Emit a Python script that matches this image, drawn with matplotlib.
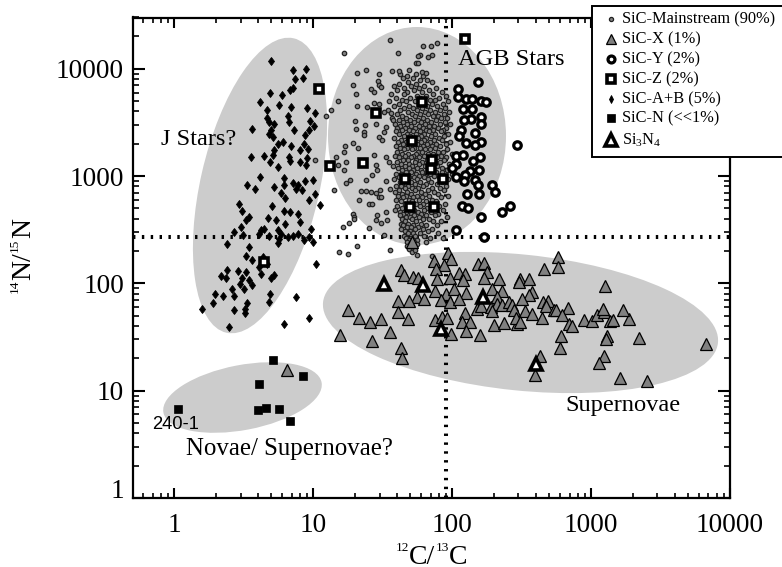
#!/usr/bin/python3
# Presolar grain isotope plot: 14N/15N against 12C/13C
import numpy as np
import matplotlib
matplotlib.use('Agg')
import matplotlib.pyplot as plt
from matplotlib.lines import Line2D
from matplotlib.patches import Ellipse, Rectangle
from matplotlib.ticker import FixedLocator, LogLocator, NullFormatter
from matplotlib.transforms import IdentityTransform

plt.rcParams['font.family'] = ['Liberation Serif', 'DejaVu Serif']
plt.rcParams['mathtext.fontset'] = 'custom'
plt.rcParams['mathtext.rm'] = 'Liberation Serif'
plt.rcParams['mathtext.default'] = 'regular'

W, H = 782, 567

# (12C/13C, 14N/15N)
mainstream_sparse = [
    (35.6, 18700), (16.7, 14100), (41, 14100), (61.8, 16300), (70, 16200), (77.8, 17500),
    (58.8, 13500), (56.9, 13100), (72, 13300), (67, 12900), (54.7, 11400), (56.9, 11400),
    (20.6, 9200), (23.9, 9820), (29.8, 8880), (37.2, 9530), (41.5, 9530), (49, 9670),
    (61, 9330), (64.6, 9140), (29.3, 7690), (29.8, 7010), (31, 6770), (19.4, 7010),
    (26, 6430), (27.5, 6080), (20.3, 5870), (15.1, 4980), (20.6, 4500), (24.3, 4400),
    (27.5, 4800), (29.8, 4730), (13.4, 4100), (12.4, 3630), (20, 3270), (20.3, 2770),
    (23.6, 2970), (23.3, 2580), (23.3, 2400), (28.2, 3080), (32.4, 3960), (36.2, 3900),
    (37.8, 3310), (33.3, 2870), (32.4, 2580), (29.8, 2320), (31.5, 2160), (19.2, 2050),
    (16.9, 1910), (21.1, 1820), (16.7, 1660), (14.6, 1510), (17.2, 1350), (15, 1260),
    (16.7, 1130), (27.5, 1560), (33.3, 1510), (35.2, 1350), (28.2, 1260), (29, 1130),
    (26.7, 1020), (23.9, 927), (18.5, 914), (17.2, 863), (33.3, 901), (14.1, 738),
    (22, 723), (23.9, 723), (26, 712), (28.2, 702), (30.1, 738), (35.6, 754),
    (29.8, 631), (30.7, 631), (21.4, 604), (25.3, 547), (26.7, 547), (28.6, 438),
    (33.3, 464), (19.2, 441), (19.5, 411), (18.2, 366), (16.3, 336), (19.7, 396),
    (25.3, 325), (28.2, 388), (30.7, 366), (33.7, 388), (32.4, 281), (10.3, 1400),
    (15.3, 196), (17.7, 188), (20.6, 223), (35.6, 206), (53, 216), (54, 204),
    (56.2, 183), (72, 179),
]
mainstream_core_y = [
    8990, 8610, 8260, 7920, 7590, 7270, 6970, 6670, 6390, 6120, 5870, 5620, 5390, 5160, 4950,
    4740, 4530, 4340, 4160, 3990, 3820, 3660, 3510, 3360, 3210, 3080, 2950, 2830, 2710, 2600,
    2490, 2380, 2280, 2180, 2090, 2000, 1920, 1840, 1770, 1690, 1620, 1550, 1490, 1420, 1360,
    1300, 1250, 1200, 1150, 1100, 1050, 1010, 970, 929, 889, 851, 815, 781, 748, 717,
    687, 658, 631, 604, 579, 554, 531, 509, 487, 467, 447, 429, 411, 394, 377,
    361, 346, 332, 318, 305, 292, 279, 267, 256, 245, 235, 225, 216, 207, 198,
]
mainstream_core_x = [
    [42.3, 55.1], [47.6, 61.2], [44.1, 52.4], [58.7, 66.3], [48.2, 71.9], [41.5, 54.6],
    [63.2, 50.8, 37.9], [45.3, 57.4, 76.5], [40.2, 52.9, 67.8], [47.1, 60.3, 84.2],
    [36.4, 44.8, 73.1], [55.6, 64.7, 90.3], [39.1, 49.5, 58.2, 80.6], [43.2, 68.9, 75.4],
    [35.3, 46.7, 53.8, 62.1, 93.2], [41.2, 57.3, 71.2, 85.8], [38.2, 48.8, 65.4, 77.9],
    [44.7, 52.1, 60.8, 89.1], [34.6, 41.9, 55.9, 69.3, 81.4], [47.9, 63.5, 74.8, 95.6],
    [39.8, 51.2, 58.6, 67.1, 86.7], [43.6, 54.4, 72.5, 79.3], [37.1, 46.2, 61.7, 83.6, 91.8],
    [41.1, 49.9, 56.7, 65.9, 76.2], [44.2, 52.8, 59.9, 70.4, 88.3], [38.7, 47.3, 63.8, 81.9, 97.2],
    [42.4, 50.6, 57.8, 68.1, 74.3], [40.4, 45.8, 54.2, 61.4, 78.6, 90.7], [43.8, 49.2, 64.9, 72.2, 85.3],
    [39.6, 52.3, 58.9, 67.7, 82.8], [41.7, 47.1, 55.3, 62.6, 75.7, 94.1], [44.9, 50.1, 60.1, 70.8, 87.9],
    [38.3, 53.4, 57.1, 65.2, 79.8], [42.9, 48.4, 63.1, 73.6, 84.7], [40.8, 46.4, 51.9, 59.2, 68.7, 96.3],
    [44.4, 55.7, 66.1, 77.1, 89.9], [39.4, 49.1, 61.9, 71.6, 82.3], [42.1, 47.7, 53.1, 58.3, 75.1],
    [45.2, 51.4, 64.2, 69.8, 92.4], [40.1, 56.4, 60.9, 79.1, 86.2], [43.4, 48.1, 54.9, 67.2, 73.2, 99.1],
    [38.9, 46.1, 52.6, 62.9, 83.1], [41.4, 50.3, 58.1, 70.1, 77.6, 90.1], [44.1, 47.9, 55.2, 65.7, 87.1],
    [39.9, 53.7, 60.6, 74.7, 81.1], [42.7, 49.3, 57.5, 68.3, 95.1], [37.5, 45.9, 51.7, 63.3, 78.2],
    [40.7, 48.7, 55.4, 72.8, 85.1], [43.9, 52.2, 59.6, 66.9, 91.4], [46.9, 50.9, 61.1, 76.9, 83.9],
    [39.2, 42.6, 54.7, 69.1, 100.5], [45.1, 57.9, 64.1, 73.9, 88.6], [41.6, 48.9, 52.7, 62.3, 80.1],
    [38.4, 44.6, 56.2, 67.5, 93.7], [42.2, 50.4, 59.1, 70.6, 84.1], [46.6, 53.9, 64.6, 77.3],
    [39.7, 43.1, 48.2, 61.3, 90.9], [45.6, 51.1, 57.2, 72.1, 81.7], [41.3, 54.1, 66.7, 86.9],
    [38.6, 47.5, 59.4, 74.1], [43.3, 50.2, 63.6, 79.7], [40.9, 46.3, 55.8, 68.6, 92.6],
    [44.3, 52.5, 60.2, 83.2], [39.3, 48.6, 57.7, 71.3], [42.8, 51.6, 65.1, 76.1],
    [45.4, 54.5, 61.6, 88.1], [40.3, 49.7, 58.4, 80.9], [43.7, 47.2, 66.2, 73.4],
    [38.8, 52.7, 62.2, 85.6], [41.8, 46.8, 56.6, 69.9], [44.5, 50.7, 59.8, 78.9],
    [42.1, 53.3, 64.4, 75.8], [46.4, 49.4, 57.6, 91.1], [43.5, 51.3, 61.8, 68.4],
    [45.7, 54.8, 72.9, 83.4], [42.9, 48.3, 59.7], [44.6, 52.1, 64.3, 77.7], [47.4, 50.5, 56.9],
    [43.1, 53.6, 61.5, 71.1], [45.5, 49.6, 67.3], [47.8, 52.4, 58.8, 79.4], [44.8, 54.3, 62.7],
    [46.5, 50.3, 69.4, 86.4], [48.5, 56.1], [47.2, 52.9, 64.8], [49.8, 55.5], [47.6, 51.5],
    [50.7, 53.2], [49.1, 52.2], [51.4],
]
sic_x = [
    (93, 192), (97.5, 170), (74, 161), (88, 148), (77, 137), (154, 150), (169, 155), (179, 128),
    (169, 113), (575, 177), (582, 142), (457, 137), (43, 133), (45, 119), (52, 115), (57, 111),
    (78, 109), (96, 111), (112, 124), (124, 122), (120, 107), (217, 109), (310, 109), (302, 103),
    (360, 109), (1266, 95), (195, 88), (227, 85), (377, 83), (356, 78), (75, 85), (90, 80),
    (103, 88), (126, 82), (56, 74), (63, 71), (49, 69), (41, 69), (83, 70), (96, 67), (112, 71),
    (152, 58), (162, 61), (189, 60), (209, 75), (211, 64), (229, 63), (256, 67), (316, 72),
    (270, 63), (278, 57), (337, 55), (195, 55), (449, 67), (491, 69), (475, 61), (539, 56),
    (557, 57), (679, 59), (377, 52), (445, 48), (618, 51), (124, 53), (17.9, 57), (21.4, 48),
    (25.5, 44), (31, 47), (40.6, 54), (47.9, 47), (75, 46), (85, 49), (92, 48), (118, 44),
    (134, 44), (200, 41), (236, 43), (294, 42), (286, 48), (310, 44), (690, 42), (729, 40),
    (885, 46), (1016, 45), (1104, 51), (1233, 54), (1219, 58), (1374, 45), (1429, 46),
    (1862, 47), (1694, 56), (15.7, 33), (26.3, 29), (35.8, 35), (97.5, 34), (126, 36), (158, 33),
    (608, 32), (601, 25), (1301, 32), (1288, 30), (2223, 31), (6730, 27), (43, 25), (43.9, 20),
    (428, 21), (398, 14), (1233, 21), (1135, 18), (1622, 13), (2523, 12.4), (6.48, 15.6),
    (51, 244),
]
sic_y = [
    (153, 7480), (110, 6530), (110, 5460), (125, 5190), (140, 5190), (160, 4980), (176, 4910),
    (120, 4190), (140, 4190), (136, 3430), (160, 3560), (122, 3310), (160, 3080), (115, 2710),
    (145, 2520), (112, 2370), (162, 2080), (146, 1960), (125, 2010), (294, 1960), (106, 1530),
    (120, 1580), (158, 1510), (106, 1290), (142, 1380), (100, 1200), (156, 1130), (134, 1120),
    (123, 1020), (106, 970), (145, 927), (122, 900), (153, 822), (127, 686), (157, 686),
    (192, 822), (204, 707), (117, 527), (131, 505), (260, 524), (229, 463), (162, 414),
    (106, 313), (169, 271),
]
sic_z = [
    (123, 18800), (61, 4870), (28.2, 3840), (51, 2110), (72, 1400), (70, 1157), (23, 1325),
    (13.3, 1253), (46, 934), (86, 934), (50, 512), (73.6, 512), (11, 6430), (4.45, 158),
]
sic_ab = [
    (4.95, 11800), (7.11, 9660), (8.87, 9940), (7.40, 8070), (8.45, 8190), (7.11, 6650),
    (6.81, 6380), (4.90, 5990), (5.93, 5650), (4.17, 4900), (5.71, 4630), (6.92, 4400),
    (8.97, 4340), (4.66, 4090), (10.3, 3870), (4.66, 3500), (6.55, 3600), (4.84, 3190),
    (6.73, 3190), (5.26, 3080), (9.48, 3230), (3.63, 2760), (4.98, 2670), (7.31, 2670),
    (10.2, 2900), (4.84, 2480), (9.37, 2670), (5.12, 2310), (5.56, 1980), (6.03, 2070),
    (8.73, 2390), (6.92, 1890), (8.63, 2000), (8.08, 1740), (9.12, 1800), (5.26, 1740),
    (3.57, 1510), (4.45, 1540), (5.12, 1560), (6.73, 1510), (4.92, 1350), (6.85, 1380),
    (8.00, 1350), (9.02, 1480), (8.87, 1260), (5.56, 1210), (4.15, 980), (6.20, 966),
    (3.34, 820), (3.78, 764), (5.20, 791), (6.20, 820), (7.11, 861), (7.73, 832), (8.78, 899),
    (9.91, 912), (5.87, 700), (7.52, 764), (8.26, 736), (10.3, 685), (6.27, 630), (9.37, 603),
    (2.94, 553), (5.03, 523), (11.2, 542), (3.06, 473), (6.20, 473), (6.85, 459), (7.82, 440),
    (3.47, 416), (4.76, 407), (5.35, 387), (3.29, 387), (8.08, 374), (6.30, 355), (3.03, 336),
    (2.71, 302), (4.22, 312), (4.45, 324), (4.04, 287), (5.62, 312), (5.87, 291), (3.11, 281),
    (4.84, 277), (6.55, 271), (7.73, 291), (7.11, 275), (9.64, 324), (9.37, 271), (5.71, 261),
    (5.56, 240), (8.63, 252), (9.91, 243), (2.39, 231), (3.47, 219), (3.29, 179), (3.61, 164),
    (4.33, 176), (4.66, 153), (4.04, 142), (2.39, 134), (2.87, 131), (2.18, 117), (2.37, 113),
    (3.29, 128), (4.22, 123), (3.47, 108), (3.08, 111), (4.98, 111), (5.26, 119), (2.99, 99.6),
    (3.16, 89), (3.61, 96), (2.59, 89), (2.67, 77), (1.97, 79), (2.24, 77), (1.90, 66),
    (4.92, 79), (4.84, 67), (3.33, 65), (2.71, 57), (3.23, 58), (3.23, 53), (1.59, 58),
    (7.48, 74), (10.4, 153), (9.37, 48), (6.13, 42), (2.47, 39),
]
sic_n = [
    (1.06, 6.7), (5.14, 19.5), (8.44, 13.7), (4.06, 11.5), (4.0, 6.64), (4.55, 6.93),
    (5.65, 6.74), (6.84, 5.2),
]
si3n4 = [(32.4, 98), (62, 97), (82.7, 37.7), (167, 75), (403, 17.7)]

x_major = [1, 10, 100, 1000, 10000]
y_major = [1, 10, 100, 1000, 10000]
x_limit_lines = 90
y_limit_lines = 272

legend_names = ['SiC-Mainstream (90%)', 'SiC-X (1%)', 'SiC-Y (2%)', 'SiC-Z (2%)',
                'SiC-A+B (5%)', 'SiC-N (<<1%)', r'Si$_3$N$_4$']

# marker styles, also used for the key
MS = dict(marker='o', ms=3.2, mfc='#808080', mec='#222222', mew=0.9, ls='none')
XS = dict(marker='^', ms=8.4, mfc='#808080', mec='black', mew=0.9, ls='none')
YS = dict(marker='o', ms=5.4, mfc='white', mec='black', mew=2.3, ls='none')
ZS = dict(marker='s', ms=5.2, mfc='white', mec='black', mew=2.6, ls='none')
ABS = dict(marker='d', ms=4.3, mfc='black', mec='black', mew=0.6, ls='none')
NS = dict(marker='s', ms=5.2, mfc='black', mec='black', mew=0.5, ls='none')
SIS = dict(marker='^', ms=8.2, mfc='white', mec='black', mew=2.6, ls='none')


def pairs(series):
    return np.array(series).T


def ellipse(cx, cy, width, height, angle):
    # sizes and centre in pixels, so the ellipses stay ellipses on the log axes
    ax.add_patch(Ellipse((cx, H - cy), width, height, angle=angle, fc='#cccccc', ec='none',
                         transform=IdentityTransform(), zorder=1))


def pieced_label(px, py, parts, vertical=False):
    # superscripts here are about half size, smaller than mathtext gives
    renderer = fig.canvas.get_renderer()
    pos = py if vertical else px
    for piece, size, rise in parts:
        if vertical:
            t = fig.text((px - rise) / W, 1 - pos / H, piece, fontsize=size, rotation=90,
                         rotation_mode='anchor', ha='left', va='baseline')
            pos -= t.get_window_extent(renderer).height
        else:
            t = fig.text(pos / W, 1 - (py - rise) / H, piece, fontsize=size, ha='left', va='baseline')
            pos += t.get_window_extent(renderer).width


fig = plt.figure(figsize=(W / 100, H / 100), dpi=100)
ax = fig.add_axes([132.5 / W, 1 - 498 / H, 597.5 / W, 480.5 / H])
ax.set_xscale('log')
ax.set_yscale('log')
ax.set_xlim(0.5, 10000)
ax.set_ylim(1, 30000)

ellipse(260, 185.5, 302, 119, 77.1)
ellipse(417, 136, 178, 218, 0)
ellipse(520.5, 322.5, 397, 136, -5.85)
ellipse(242.5, 397.5, 161, 65, 10.8)

ax.axvline(x_limit_lines, color='black', lw=2.9, ls=(0, (0.6, 1.6)), zorder=2)
ax.axhline(y_limit_lines, color='black', lw=2.9, ls=(0, (0.6, 1.6)), zorder=2)

core_x = [v for row in mainstream_core_x for v in row]
core_y = [y for y, row in zip(mainstream_core_y, mainstream_core_x) for v in row]
ax.plot(core_x, core_y, zorder=3, **MS)
ax.plot(*pairs(mainstream_sparse), zorder=3, **MS)
ax.plot(*pairs(sic_ab), zorder=3, **ABS)
ax.plot(*pairs(sic_x), zorder=4, **XS)
ax.plot(*pairs(sic_y), zorder=5, **YS)
ax.plot(*pairs(sic_z), zorder=6, **ZS)
ax.plot(*pairs(sic_n), zorder=6, **NS)
ax.plot(*pairs(si3n4), zorder=7, **SIS)

ax.xaxis.set_major_locator(FixedLocator(x_major))
ax.yaxis.set_major_locator(FixedLocator(y_major))
ax.xaxis.set_minor_locator(LogLocator(base=10, subs=range(2, 10), numticks=12))
ax.yaxis.set_minor_locator(LogLocator(base=10, subs=range(2, 10), numticks=12))
ax.xaxis.set_minor_formatter(NullFormatter())
ax.yaxis.set_minor_formatter(NullFormatter())
ax.set_xticklabels([str(v) for v in x_major])
ax.set_yticklabels([str(v) for v in y_major])
ax.tick_params(axis='x', which='major', direction='in', top=True, length=7, width=1.5, pad=11, labelsize=19.7)
ax.tick_params(axis='x', which='minor', direction='in', top=True, length=3.8, width=1.2)
ax.tick_params(axis='y', which='major', direction='in', right=True, length=8.6, width=1.5, pad=6, labelsize=19.7)
ax.tick_params(axis='y', which='minor', direction='in', right=True, length=4, width=1.2)
ax.get_yticklabels()[0].set_verticalalignment('baseline')
for side in ax.spines.values():
    side.set_linewidth(1.6)

pieced_label(396, 564, [('12', 9.6, 13), ('C/', 20, 0), ('13', 9.6, 13), ('C', 20, 0)])
pieced_label(30, 293, [('14', 9.6, 12), ('N/', 20, 0), ('15', 9.6, 12), ('N', 20, 0)], vertical=True)

ax.text(111, 12200, 'AGB Stars', fontsize=17.6, va='center', zorder=8)
ax.text(0.807, 2200, 'J Stars?', fontsize=17.6, va='center', zorder=8)
ax.text(653, 7.3, 'Supernovae', fontsize=17.6, va='center', zorder=8)
ax.text(1.22, 2.86, 'Novae/ Supernovae?', fontsize=17.9, va='center', zorder=8)
ax.text(0.695, 4.89, '240-1', fontsize=13.2, family='Liberation Sans', va='center', zorder=8)

# the key sits over the axes and runs off the right edge
fig.add_artist(Rectangle((592 / W, 1 - 157 / H), 192 / W, 151 / H, fc='white', ec='black', lw=1.4,
                         transform=fig.transFigure, zorder=10))
legend_styles = [MS, XS, YS, ZS, ABS, NS, SIS]
legend_ms = [3.0, 7.0, 5.0, 5.2, 3.9, 6.0, 9.0]
legend_py = [19, 39, 59, 79, 99, 118, 140]
for name, style, size, py in zip(legend_names, legend_styles, legend_ms, legend_py):
    mark = dict(style)
    mark['ms'] = size
    fig.add_artist(Line2D([610.7 / W], [1 - py / H], transform=fig.transFigure, zorder=11, **mark))
    fig.text(621.7 / W, 1 - py / H, name, fontsize=11.8, va='center', zorder=11)

fig.savefig('out.png', dpi=100)
